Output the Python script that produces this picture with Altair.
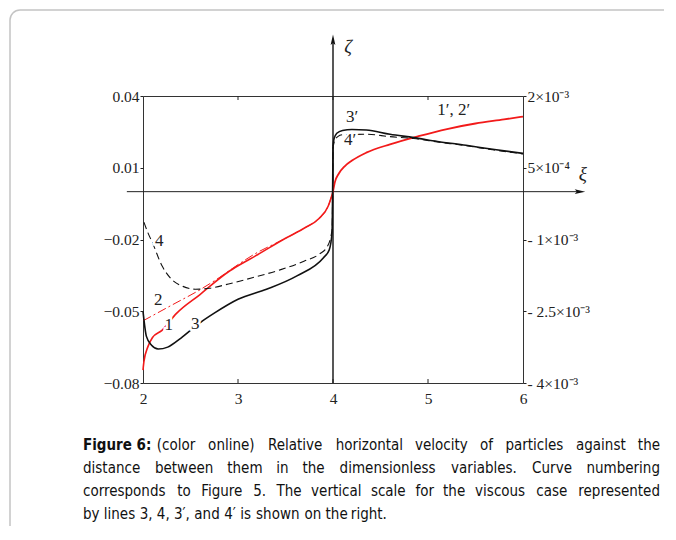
import altair as alt
import pandas as pd

# ---------------- data ----------------
# inviscid curves (left scale)
x1 = [2.0, 2.01, 2.05, 2.1, 2.2, 2.35, 2.6, 2.9, 3.0, 3.2, 3.5, 3.7, 3.85, 3.95, 4.0]
y1 = [-0.0746, -0.071, -0.065, -0.061, -0.058, -0.051, -0.043, -0.0335, -0.031, -0.0265,
      -0.0195, -0.0152, -0.0113, -0.006, 0.0]
x2 = [2.0, 2.3, 2.6, 2.8, 3.0, 3.2, 3.4, 3.5, 3.7, 3.85, 3.95, 4.0]
y2 = [-0.054, -0.0475, -0.041, -0.036, -0.0305, -0.0255, -0.0215, -0.0195, -0.0152, -0.0113,
      -0.006, 0.0]
x12p = [4.0, 4.02, 4.06, 4.12, 4.2, 4.35, 4.6, 4.9, 5.2, 5.5, 5.8, 6.0]
y12p = [0.0, 0.004, 0.0075, 0.0105, 0.013, 0.0163, 0.0198, 0.0232, 0.0262, 0.0285, 0.0302, 0.0314]

# viscous curves (right scale, units of 1e-3)
x3 = [2.0, 2.01, 2.035, 2.09, 2.16, 2.26, 2.4, 2.6, 2.75, 3.0, 3.3, 3.62, 3.9, 3.96, 3.99, 4.0]
y3 = [-2.5, -2.68, -3.02, -3.21, -3.29, -3.25, -3.06, -2.74, -2.54, -2.25, -2.04, -1.76, -1.38,
      -1.22, -0.86, 0.95]
x4 = [2.01, 2.05, 2.1, 2.2, 2.3, 2.42, 2.55, 2.7, 2.9, 3.15, 3.45, 3.7, 3.86, 3.94, 3.99, 4.0]
y4 = [-0.64, -0.85, -1.07, -1.55, -1.83, -1.98, -2.04, -2.02, -1.93, -1.8, -1.63, -1.45, -1.3,
      -1.15, -0.8, 0.9]
x3p = [4.0, 4.01, 4.04, 4.1, 4.2, 4.35, 4.6, 4.85, 5.1, 5.4, 5.7, 6.0]
y3p = [0.95, 1.1, 1.22, 1.28, 1.30, 1.29, 1.2, 1.13, 1.05, 0.97, 0.88, 0.80]
x4p = [4.0, 4.01, 4.05, 4.1, 4.35, 4.6, 4.85, 5.1, 5.4, 5.7, 6.0]
y4p = [0.9, 1.02, 1.15, 1.19, 1.20, 1.15, 1.11, 1.04, 0.96, 0.87, 0.79]

# axes / ticks
x_ticks = [2, 3, 4, 5, 6]
left_ticks = [0.04, 0.01, -0.02, -0.05, -0.08]
right_ticks = [2, 0.5, -1, -2.5, -4]
right_tick_text = ["2×10⁻³", "5×10⁻⁴", "- 1×10⁻³", "- 2.5×10⁻³", "- 4×10⁻³"]

# curve labels (in left-scale data coordinates)
curve_labels = ["4", "2", "1", "3", "3′", "4′", "1′, 2′"]
curve_label_x = [2.17, 2.16, 2.27, 2.55, 4.2, 4.18, 5.27]
curve_label_y = [-0.0205, -0.0453, -0.0558, -0.0555, 0.0312, 0.0214, 0.0342]

caption_lines = [
    "Figure 6: (color online) Relative horizontal velocity of particles against the",
    "distance between them in the dimensionless variables. Curve numbering",
    "corresponds to Figure 5. The vertical scale for the viscous case represented",
    "by lines 3, 4, 3′, and 4′ is shown on the right.",
]
caption_justified = [True, True, True, False]

# ---------------- chart ----------------
SERIF = "Liberation Serif, Times New Roman, serif"
CAP = "DejaVu Sans Condensed, Liberation Sans, Arial, sans-serif"
CAP_SIZE = 15
TICK_SIZE = 15.5
RED = "#f21a1a"
BLK = "#111111"
W, H = 380, 287

xs = alt.Scale(domain=[2, 6], nice=False, zero=False)
ls = alt.Scale(domain=[-0.08, 0.04], nice=False, zero=False)
rs = alt.Scale(domain=[-4, 2], nice=False, zero=False)

x_axis = alt.Axis(values=x_ticks, format="d", tickSize=0, labelPadding=8, domain=False,
                  labelFont=SERIF, labelFontSize=TICK_SIZE, labelColor="#222", labelFlush=False,
                  labelOverlap=False, grid=False, orient="bottom", title=None, zindex=2)
left_axis = alt.Axis(values=left_ticks, orient="left", tickSize=3, tickColor="#222",
                     labelPadding=1, labelFont=SERIF, labelFontSize=TICK_SIZE, labelColor="#222",
                     domain=False, grid=False, labelOverlap=False, labelFlush=False, title=None,
                     zindex=2,
                     labelExpr="datum.value < 0 ? '−' + format(-datum.value, '.2f') : format(datum.value, '.2f')")
rmap = " : ".join(f"datum.value == {v} ? '{t}'" for v, t in zip(right_ticks[:-1], right_tick_text[:-1]))
right_axis = alt.Axis(values=right_ticks, orient="right", tickSize=3, tickColor="#222",
                      labelPadding=1, labelFont=SERIF, labelFontSize=TICK_SIZE, labelColor="#222",
                      domain=False, grid=False, labelOverlap=False, labelFlush=False, title=None,
                      zindex=2, labelExpr=rmap + f" : '{right_tick_text[-1]}'")


def line(xv, yv, yscale, color, width, dash=None, xaxis=alt.Undefined, yaxis=alt.Undefined,
         interp="monotone"):
    kw = dict(color=color, strokeWidth=width, interpolate=interp)
    if dash:
        kw["strokeDash"] = dash
    return alt.Chart(pd.DataFrame({"x": xv, "y": yv})).mark_line(**kw).encode(
        x=alt.X("x:Q", scale=xs, axis=xaxis),
        y=alt.Y("y:Q", scale=yscale, axis=yaxis),
    )


one = pd.DataFrame({"a": [0]})

# rounded figure frame (decoration, in pixels relative to the plot area)
border = alt.Chart(one).mark_rect(fillOpacity=0, stroke="#c4c4c4", strokeWidth=1.5,
                                  cornerRadius=10).encode(
    x=alt.value(-133), x2=alt.value(700), y=alt.value(-86), y2=alt.value(470))

# axis-like lines through the origin (4, 0); this layer carries the x and left y axes
hline = alt.Chart(pd.DataFrame({"x": [1.83], "x2": [6.6], "y": [0.0]})).mark_rule(
    color="#222", strokeWidth=1).encode(
    x=alt.X("x:Q", scale=xs, axis=x_axis), x2="x2:Q",
    y=alt.Y("y:Q", scale=ls, axis=left_axis))
vline = alt.Chart(pd.DataFrame({"x": [4.0], "y": [-0.08], "y2": [0.0635]})).mark_rule(
    color=BLK, strokeWidth=1.4).encode(
    x=alt.X("x:Q", scale=xs), y=alt.Y("y:Q", scale=ls), y2="y2:Q")
ARROW = "M0,-1L0.45,1L0,0.6L-0.45,1Z"
up_arrow = alt.Chart(pd.DataFrame({"x": [4.0], "y": [0.0635]})).mark_point(
    shape=ARROW, filled=True, color=BLK, size=110, opacity=1).encode(
    x=alt.X("x:Q", scale=xs), y=alt.Y("y:Q", scale=ls))
right_arrow = alt.Chart(pd.DataFrame({"x": [6.6], "y": [0.0]})).mark_point(
    shape=ARROW, filled=True, color=BLK, size=110, opacity=1, angle=90).encode(
    x=alt.X("x:Q", scale=xs), y=alt.Y("y:Q", scale=ls))

tick_df = pd.DataFrame({"t": x_ticks[1:-1]})
ticks_bottom = alt.Chart(tick_df).mark_rule(color="#222").encode(
    x=alt.X("t:Q", scale=xs), y=alt.value(H - 4), y2=alt.value(H))
ticks_top = alt.Chart(tick_df).mark_rule(color="#222").encode(
    x=alt.X("t:Q", scale=xs), y=alt.value(0), y2=alt.value(4))

left_layer = alt.layer(
    hline, vline, up_arrow, right_arrow, ticks_bottom, ticks_top,
    line(x1, y1, ls, RED, 1.6),
    line(x2, y2, ls, RED, 1.0, dash=[9, 3, 2, 3]),
    line(x12p, y12p, ls, RED, 1.8),
)

right_layer = alt.layer(
    line(x3, y3, rs, BLK, 1.6, yaxis=right_axis),
    line(x4, y4, rs, BLK, 1.1, dash=[7, 4]),
    line(x3p, y3p, rs, BLK, 1.6),
    line(x4p, y4p, rs, BLK, 1.1, dash=[7, 4]),
)

lab_df = pd.DataFrame({"x": curve_label_x, "y": curve_label_y, "t": curve_labels})
lab_enc = dict(x=alt.X("x:Q", scale=xs), y=alt.Y("y:Q", scale=ls, axis=None), text="t:N")
halo = alt.Chart(lab_df).mark_text(font=SERIF, fontSize=17, stroke="white", strokeWidth=5,
                                   color="white").encode(**lab_enc)
labels = alt.Chart(lab_df).mark_text(font=SERIF, fontSize=17, color="#222").encode(**lab_enc)
sym_df = pd.DataFrame({"x": [4.16, 6.63], "y": [0.0605, 0.0075], "t": ["ζ", "ξ"]})
symbols = alt.Chart(sym_df).mark_text(font=SERIF, fontSize=19, fontStyle="italic",
                                      color="#222").encode(
    x=alt.X("x:Q", scale=xs), y=alt.Y("y:Q", scale=ls, axis=None), text="t:N")

# ---- caption: words laid out to imitate a justified paragraph ----
ARIAL = {c: 556 for c in "abdeghnopqu0123456789"}
ARIAL.update({"c": 500, "k": 500, "s": 500, "v": 500, "x": 500, "y": 500, "z": 500,
              "f": 278, "t": 278, "i": 222, "j": 222, "l": 222, "m": 833, "r": 333,
              "w": 722, " ": 278, ".": 278, ",": 278, ":": 278, "(": 333, ")": 333,
              "′": 190, "C": 722, "R": 722, "F": 611, "T": 611})


def tw(s):
    return sum(ARIAL.get(ch, 667) for ch in s) / 1000.0


LEFT, RIGHT = -60, 517          # paragraph edges relative to the plot area
LINE_Y = [349, 372, 395, 418]
cap_layers = []
for text, just, ly in zip(caption_lines, caption_justified, LINE_Y):
    words = text.split(" ")
    if text.startswith("Figure 6:"):
        words = ["Figure 6:"] + text[len("Figure 6: "):].split(" ")
    widths = [tw(w) for w in words]
    scale = CAP_SIZE * 1.03
    if just:
        gap = ((RIGHT - LEFT) / scale - sum(widths)) / (len(words) - 1)
    else:
        gap = tw(" ")
    pos = 0.0
    for k, (w, wd) in enumerate(zip(words, widths)):
        if just and k == len(words) - 1:
            cx, al = RIGHT, "right"
        elif k == 0:
            cx, al = LEFT, "left"
        else:
            cx, al = LEFT + (pos + wd / 2) * scale, "center"
        bold = (w == "Figure 6:")
        cap_layers.append(
            alt.Chart(one).mark_text(text=w, font=CAP, fontSize=CAP_SIZE,
                                     fontWeight="bold" if bold else "normal",
                                     align=al, baseline="middle", color="#111").encode(
                x=alt.value(cx), y=alt.value(ly)))
        pos += wd + gap

annot_layer = alt.layer(halo, labels, symbols, *cap_layers)

chart = alt.layer(left_layer, right_layer, annot_layer, border).resolve_scale(
    y="independent"
).properties(
    width=W, height=H,
    autosize=alt.AutoSizeParams(type="none"),
    padding={"left": 135, "top": 88, "right": 141, "bottom": 143},
    background="white",
).configure_view(stroke="#333", strokeWidth=1)

chart.save("out.html", embed_options={"renderer": "svg", "actions": False})
